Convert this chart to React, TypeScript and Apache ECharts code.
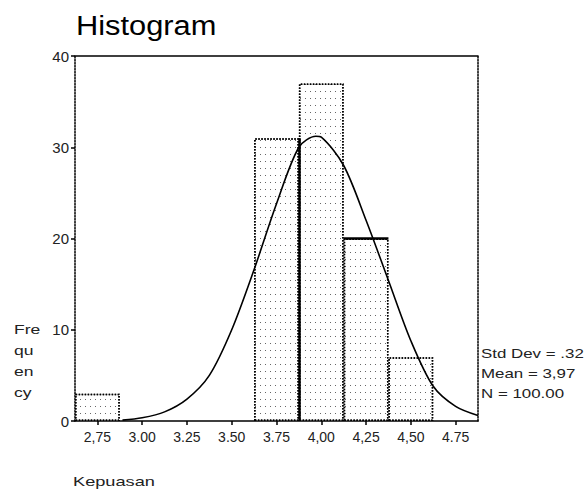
import React, { useEffect, useRef } from "react";
import * as echarts from "echarts";

// ---- data ----
const xMin = 2.625;
const xMax = 4.875;
const binWidth = 0.25;
const binCenters = [2.75, 3.75, 4.0, 4.25, 4.5];
const binCounts = [3, 31, 37, 20, 7];
const tickValues = [2.75, 3.0, 3.25, 3.5, 3.75, 4.0, 4.25, 4.5, 4.75];
const tickLabels = ["2,75", "3.00", "3.25", "3.50", "3.75", "4,00", "4,25", "4,50", "4.75"];
const yMin = 0;
const yMax = 40;
const yInterval = 10;
const curveX = [2.89, 3.0, 3.125, 3.25, 3.375, 3.5, 3.625, 3.75, 3.875, 3.97, 4.0, 4.125, 4.25, 4.375, 4.5, 4.625, 4.75, 4.875];
const curveY = [0.1, 0.35, 1.0, 2.4, 5.0, 10.0, 16.6, 23.8, 30.0, 31.2, 31.1, 28.0, 22.0, 15.4, 8.8, 3.8, 1.6, 0.6];
const statsLines = ["Std Dev = .32", "Mean = 3,97", "N = 100.00"];
const yNameLines = ["Fre", "qu", "en", "cy"];
const xName = "Kepuasan";
const titleText = "Histogram";

const FONT = "'Liberation Sans', Arial, sans-serif";

export default function App() {
  const ref = useRef<HTMLDivElement>(null);

  useEffect(() => {
    document.body.style.margin = "0";
    if (!ref.current) return;
    const chart = echarts.init(ref.current, null, { renderer: "svg" });

    const gridLeft = 75;
    const gridRight = 107;
    const gridTop = 56;
    const gridBottom = 70;
    const plotW = 585 - gridLeft - gridRight;
    const barPx = (plotW / (xMax - xMin)) * binWidth;

    const sharedEdge = binCenters[1] + binWidth / 2;
    const thickLines = [
      [{ coord: [sharedEdge, 0] }, { coord: [sharedEdge, Math.min(binCounts[1], binCounts[2])] }],
      [
        { coord: [binCenters[3] - binWidth / 2, binCounts[3]] },
        { coord: [binCenters[3] + binWidth / 2, binCounts[3]] },
      ],
    ];

    const yNameTexts = yNameLines.map((t, i) => ({
      type: "text",
      x: 14,
      y: 323 + i * 21,
      scaleX: 1.35,
      style: { text: t, fontSize: 13, fontFamily: FONT, fill: "#222", verticalAlign: "top" },
    }));
    const statTexts = statsLines.map((t, i) => ({
      type: "text",
      x: 481,
      y: 347 + i * 20,
      scaleX: 1.3,
      style: { text: t, fontSize: 13, fontFamily: FONT, fill: "#222", verticalAlign: "top" },
    }));

    chart.setOption({
      animation: false,
      grid: { left: gridLeft, right: gridRight, top: gridTop, bottom: gridBottom },
      xAxis: [
        {
          type: "value",
          min: xMin,
          max: xMax,
          axisLine: { show: true, lineStyle: { color: "#000", width: 1.5 } },
          axisTick: {
            show: true,
            customValues: tickValues,
            length: 4,
            lineStyle: { color: "#000", width: 1.5 },
          },
          axisLabel: {
            show: true,
            customValues: tickValues,
            margin: 9,
            fontSize: 14,
            fontFamily: FONT,
            color: "#222",
            formatter: (v: number) => {
              const i = tickValues.findIndex((t) => Math.abs(t - v) < 1e-6);
              return i >= 0 ? tickLabels[i] : "";
            },
          },
          splitLine: { show: false },
        },
        {
          type: "value",
          position: "top",
          min: xMin,
          max: xMax,
          axisLine: { show: true, onZero: false, lineStyle: { color: "#000", width: 1.5 } },
          axisTick: { show: false },
          axisLabel: { show: false },
          splitLine: { show: false },
        },
      ],
      yAxis: [
        {
          type: "value",
          min: yMin,
          max: yMax,
          interval: yInterval,
          axisLine: { show: true, lineStyle: { color: "#000", width: 1.5, type: "dotted" } },
          axisTick: { show: true, length: 4, lineStyle: { color: "#000", width: 1.5 } },
          axisLabel: { fontSize: 15, fontFamily: FONT, color: "#222", margin: 6 },
          splitLine: { show: false },
        },
        {
          type: "value",
          position: "right",
          min: yMin,
          max: yMax,
          interval: yInterval,
          axisLine: { show: true, onZero: false, lineStyle: { color: "#000", width: 1.5, type: "dotted" } },
          axisTick: { show: false },
          axisLabel: { show: false },
          splitLine: { show: false },
        },
      ],
      series: [
        {
          type: "bar",
          xAxisIndex: 0,
          yAxisIndex: 0,
          barWidth: barPx,
          data: binCenters.map((c, i) => [c, binCounts[i]]),
          itemStyle: {
            color: "#ffffff",
            borderColor: "#000",
            borderWidth: 1.5,
            borderType: "dotted",
            decal: {
              symbol: "rect",
              symbolSize: 1,
              dashArrayX: [1, 4],
              dashArrayY: [1, 6],
              color: "rgba(0,0,0,0.6)",
            },
          },
          markLine: {
            silent: true,
            symbol: ["none", "none"],
            label: { show: false },
            lineStyle: { color: "#000", width: 2.5, type: "solid" },
            data: thickLines,
          },
          z: 2,
        },
        {
          type: "line",
          xAxisIndex: 0,
          yAxisIndex: 0,
          data: curveX.map((x, i) => [x, curveY[i]]),
          smooth: 0.3,
          symbol: "none",
          lineStyle: { color: "#000", width: 1.6 },
          z: 3,
        },
      ],
      graphic: [
        {
          type: "text",
          x: 76,
          y: 11,
          scaleX: 1.1,
          style: { text: titleText, fontSize: 28, fontFamily: FONT, fill: "#000", verticalAlign: "top" },
        },
        ...yNameTexts,
        ...statTexts,
        {
          type: "text",
          x: 73,
          y: 475,
          scaleX: 1.4,
          style: { text: xName, fontSize: 13, fontFamily: FONT, fill: "#222", verticalAlign: "top" },
        },
      ],
    });

    return () => chart.dispose();
  }, []);

  return <div ref={ref} style={{ width: 585, height: 491 }} />;
}
